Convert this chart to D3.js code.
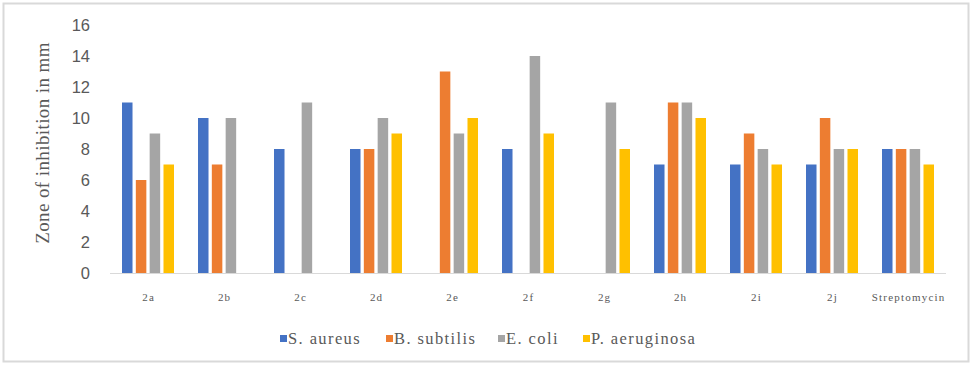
<!DOCTYPE html>
<html>
<head>
<meta charset="utf-8">
<script src="https://cdn.jsdelivr.net/npm/d3@7"></script>
<style>
  body { margin: 0; background: #fff; }
  svg { display: block; }
  text { fill: #595959; }
  .serif { font-family: "Liberation Serif", "DejaVu Serif", serif; }
  .sans { font-family: "Liberation Sans", "DejaVu Sans", sans-serif; }
</style>
</head>
<body>
<svg id="chart" width="975" height="365"></svg>
<script>
const categories = ["2a", "2b", "2c", "2d", "2e", "2f", "2g", "2h", "2i", "2j", "Streptomycin"];
const seriesNames = ["S. aureus", "B. subtilis", "E. coli", "P. aeruginosa"];
const seriesColors = ["#4472c4", "#ed7d31", "#a5a5a5", "#ffc000"];
// valores (0 = sin barra)
const sAureus    = [11, 10, 8, 8, 0, 8, 0, 7, 7, 7, 8];
const bSubtilis  = [6, 7, 0, 8, 13, 0, 0, 11, 9, 10, 8];
const eColi      = [9, 10, 11, 10, 9, 14, 11, 11, 8, 8, 8];
const pAeruginosa = [7, 0, 0, 9, 10, 9, 8, 10, 7, 8, 7];
const yTicks = [0, 2, 4, 6, 8, 10, 12, 14, 16];

const series = [sAureus, bSubtilis, eColi, pAeruginosa];

const svg = d3.select("#chart");

// marco
svg.append("rect")
    .attr("x", 3.5).attr("y", 3.5)
    .attr("width", 965).attr("height", 358)
    .attr("fill", "none")
    .attr("stroke", "#d9d9d9")
    .attr("stroke-width", 2);

const x = d3.scaleBand()
    .domain(categories)
    .range([110, 946])
    .paddingInner(0)
    .paddingOuter(0);

const y = d3.scaleLinear()
    .domain([0, 16])
    .range([273, 25]);

const inner = d3.scaleBand()
    .domain(d3.range(series.length))
    .range([12, x.bandwidth() - 12])
    .paddingInner(0.24);

// eje Y (solo etiquetas)
svg.append("g")
    .selectAll("text")
    .data(yTicks)
    .enter()
    .append("text")
    .attr("class", "sans")
    .attr("x", 90)
    .attr("y", d => y(d))
    .attr("dy", "0.35em")
    .attr("text-anchor", "end")
    .attr("font-size", 16.5)
    .text(d => d);

svg.append("text")
    .attr("class", "serif")
    .attr("transform", `translate(49, 143) rotate(-90)`)
    .attr("text-anchor", "middle")
    .attr("font-size", 19)
    .attr("letter-spacing", 0.4)
    .text("Zone of inhibition in mm");

// barras
series.forEach((vals, si) => {
    svg.append("g")
        .selectAll("rect")
        .data(vals.map((v, i) => ({ cat: categories[i], v })).filter(d => d.v > 0))
        .enter()
        .append("rect")
        .attr("x", d => x(d.cat) + inner(si))
        .attr("y", d => y(d.v))
        .attr("width", inner.bandwidth())
        .attr("height", d => y(0) - y(d.v))
        .attr("fill", seriesColors[si]);
});

// linea base
svg.append("line")
    .attr("x1", 110).attr("x2", 946)
    .attr("y1", y(0) + 0.5).attr("y2", y(0) + 0.5)
    .attr("stroke", "#d9d9d9")
    .attr("stroke-width", 1);

// etiquetas de categoria
svg.append("g")
    .selectAll("text")
    .data(categories)
    .enter()
    .append("text")
    .attr("class", "serif")
    .attr("x", d => x(d) + x.bandwidth() / 2 + 0.6)
    .attr("y", 297)
    .attr("dy", "0.35em")
    .attr("text-anchor", "middle")
    .attr("font-size", 11)
    .attr("letter-spacing", 1.2)
    .text(d => d);

// leyenda
const legendX = [280, 386, 498, 583];
const legend = svg.append("g");
seriesNames.forEach((name, i) => {
    legend.append("rect")
        .attr("x", legendX[i]).attr("y", 335)
        .attr("width", 7).attr("height", 7)
        .attr("fill", seriesColors[i]);
    legend.append("text")
        .attr("class", "serif")
        .attr("x", legendX[i] + 8)
        .attr("y", 338.5)
        .attr("dy", "0.35em")
        .attr("font-size", 16.5)
        .attr("letter-spacing", 1.4)
        .text(name);
});
</script>
</body>
</html>
